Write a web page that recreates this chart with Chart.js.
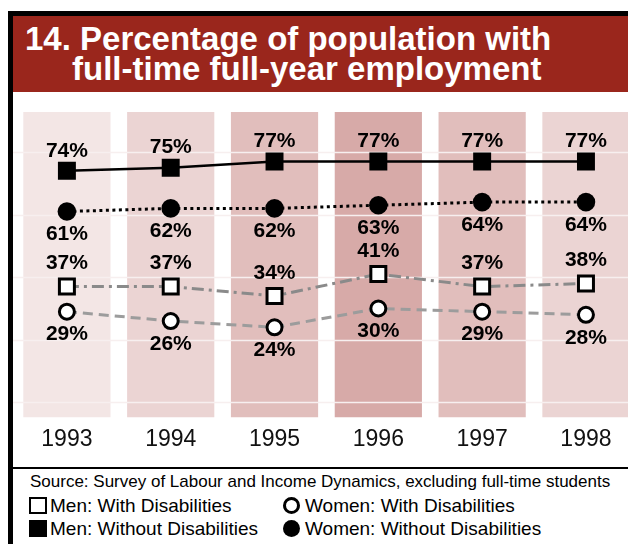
<!DOCTYPE html>
<html>
<head>
<meta charset="utf-8">
<script src="https://cdn.jsdelivr.net/npm/chart.js@4.4.1/dist/chart.umd.min.js"></script>
<style>
  body { margin: 0; background: #fff; font-family: "Liberation Sans", Arial, sans-serif; }
  #page { position: relative; width: 628px; height: 544px; overflow: hidden; }
  .frameTop { position: absolute; left: 8px; top: 11px; width: 620px; height: 5px; background: #000; }
  .frameLeft { position: absolute; left: 8px; top: 11px; width: 5px; height: 533px; background: #000; }
  .banner { position: absolute; left: 13px; top: 16px; width: 615px; height: 76px; background: #9a261c; }
  .title { position: absolute; color: #fff; font-weight: bold; font-size: 33px; line-height: 33px; white-space: nowrap; }
  .sep { position: absolute; left: 13px; top: 467px; width: 615px; height: 2px; background: #000; }
  #chartBox { position: absolute; left: 13px; top: 92px; }
  .source { position: absolute; left: 30px; top: 473px; font-size: 17px; line-height: 17px; white-space: nowrap; }
  .leg { position: absolute; font-size: 19px; line-height: 19px; white-space: nowrap; }
  .icon { position: absolute; box-sizing: border-box; }
</style>
</head>
<body>
<div id="page">
  <div class="frameTop"></div>
  <div class="frameLeft"></div>
  <div class="banner"></div>
  <div class="title" style="left:25px; top:22px;">14. Percentage of population with</div>
  <div class="title" style="left:72px; top:52px;">full-time full-year employment</div>
  <div id="chartBox"><canvas id="chart" width="615" height="375"></canvas></div>
  <div class="sep"></div>
  <div class="source">Source: Survey of Labour and Income Dynamics, excluding full-time students</div>
  <div id="legend"></div>
</div>
<script>
const years = [1993, 1994, 1995, 1996, 1997, 1998];
const menWithout = [74, 75, 77, 77, 77, 77];
const womenWithout = [61, 62, 62, 63, 64, 64];
const menWith = [37, 37, 34, 41, 37, 38];
const womenWith = [29, 26, 24, 30, 29, 28];
const gridValues = [0, 20, 40, 60, 80];

const Y_MIN = -4.8, Y_MAX = 92.8;
const bandColors = ['#f3e6e5', '#ebd4d3', '#e1bebc', '#d7aaa8', '#e1bebc', '#ebd4d3'];
const FONT = '"Liberation Sans", Arial, sans-serif';

// light grid lines drawn over the year bands, under the lines
const bandGrid = {
    id: 'bandGrid',
    afterDatasetDraw(chart, args) {
        if (chart.data.datasets[args.index].type !== 'bar') return;
        const {ctx, scales: {y}} = chart;
        ctx.save();
        ctx.strokeStyle = '#f7efef';
        ctx.lineWidth = 1.5;
        gridValues.forEach(v => {
            const py = Math.round(y.getPixelForValue(v)) + 0.5;
            ctx.beginPath();
            ctx.moveTo(0, py);
            ctx.lineTo(chart.width, py);
            ctx.stroke();
        });
        ctx.restore();
    }
};

// percentage labels above / below each point
const pointLabels = {
    id: 'pointLabels',
    afterDatasetsDraw(chart) {
        const ctx = chart.ctx;
        ctx.save();
        ctx.font = 'bold 21px ' + FONT;
        ctx.fillStyle = '#000';
        ctx.textAlign = 'center';
        ctx.textBaseline = 'middle';
        chart.data.datasets.forEach((ds, i) => {
            if (ds.type !== 'line') return;
            chart.getDatasetMeta(i).data.forEach((pt, j) => {
                ctx.fillText(ds.data[j] + '%', pt.x, pt.y + ds.labelOffset);
            });
        });
        ctx.restore();
    }
};

const ctx = document.getElementById('chart').getContext('2d');
const chart = new Chart(ctx, {
    type: 'line',
    data: {
        labels: years,
        datasets: [
            {
                type: 'line', label: 'Men: Without Disabilities', data: menWithout,
                borderColor: '#000', borderWidth: 2.5,
                pointStyle: 'rect', pointRadius: 12.7, pointBackgroundColor: '#000', pointBorderWidth: 0,
                labelOffset: -20, order: 0
            },
            {
                type: 'line', label: 'Women: Without Disabilities', data: womenWithout,
                borderColor: '#000', borderWidth: 3, borderDash: [3, 3.5],
                pointStyle: 'circle', pointRadius: 9.3, pointBackgroundColor: '#000', pointBorderWidth: 0,
                labelOffset: 23, order: 1
            },
            {
                type: 'line', label: 'Men: With Disabilities', data: menWith,
                borderColor: '#8a8a8a', borderWidth: 3, borderDash: [12, 5, 3, 5],
                pointStyle: 'rect', pointRadius: 10.6, pointBackgroundColor: '#fff',
                pointBorderColor: '#000', pointBorderWidth: 3,
                labelOffset: -23, order: 2
            },
            {
                type: 'line', label: 'Women: With Disabilities', data: womenWith,
                borderColor: '#9c9c9c', borderWidth: 3, borderDash: [10, 6],
                pointStyle: 'circle', pointRadius: 7.5, pointBackgroundColor: '#fff',
                pointBorderColor: '#000', pointBorderWidth: 3,
                labelOffset: 23, order: 3
            },
            {
                type: 'bar', label: 'bands', data: years.map(() => [Y_MIN, Y_MAX]),
                backgroundColor: bandColors, borderWidth: 0,
                categoryPercentage: 0.84, barPercentage: 1, order: 10
            }
        ]
    },
    options: {
        responsive: false,
        animation: false,
        devicePixelRatio: 1,
        layout: { autoPadding: false, padding: { top: 20, left: 2, right: 0, bottom: 6 } },
        elements: { line: { tension: 0 } },
        scales: {
            x: {
                type: 'linear', min: 1992.5, max: 1998.405, offset: false,
                grid: { display: false, drawTicks: false, offset: false },
                border: { display: false },
                afterBuildTicks: s => { s.ticks = years.map(v => ({ value: v })); },
                afterFit: s => { s.paddingLeft = 0; s.paddingRight = 0; },
                ticks: { color: '#111', padding: 8, font: { size: 23, family: FONT }, callback: v => String(v) }
            },
            y: { display: false, min: Y_MIN, max: Y_MAX }
        },
        plugins: { legend: { display: false }, tooltip: { enabled: false } }
    },
    plugins: [bandGrid, pointLabels]
});

// html legend built from the line datasets
const legendSlots = [[29, 496], [282, 496], [29, 519], [282, 519]];
const legendOrder = ['Men: With Disabilities', 'Women: With Disabilities', 'Men: Without Disabilities', 'Women: Without Disabilities'];
const legendBox = document.getElementById('legend');
legendOrder.forEach((name, k) => {
    const ds = chart.data.datasets.find(d => d.label === name);
    const [lx, ly] = legendSlots[k];
    const icon = document.createElement('div');
    icon.className = 'icon';
    const open = ds.pointBackgroundColor === '#fff';
    if (ds.pointStyle === 'rect') {
        icon.style.cssText = `left:${lx}px;top:${ly + 1}px;width:18px;height:17px;background:${ds.pointBackgroundColor};border:${open ? '2px solid #000' : 'none'}`;
    } else {
        icon.style.cssText = `left:${lx + 1}px;top:${ly + 1}px;width:17px;height:17px;border-radius:50%;background:${ds.pointBackgroundColor};border:${open ? '3px solid #000' : 'none'}`;
    }
    legendBox.appendChild(icon);
    const txt = document.createElement('div');
    txt.className = 'leg';
    txt.style.left = (lx + (ds.pointStyle === 'rect' ? 21 : 23)) + 'px';
    txt.style.top = ly + 'px';
    txt.textContent = name;
    legendBox.appendChild(txt);
});
</script>
</body>
</html>
